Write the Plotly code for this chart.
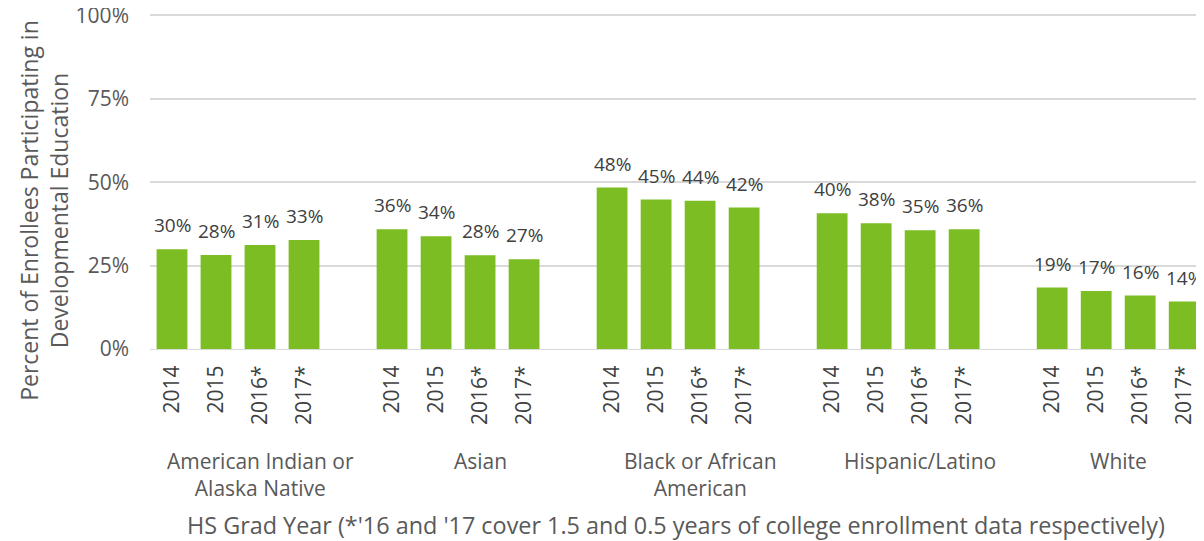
import plotly.graph_objects as go

groups = ["American Indian or<br>Alaska Native", "Asian", "Black or African<br>American",
          "Hispanic/Latino", "White"]
years = ["2014", "2015", "2016*", "2017*"]

american_indian = [0.299, 0.282, 0.312, 0.327]
asian = [0.359, 0.338, 0.281, 0.269]
black = [0.484, 0.448, 0.444, 0.424]
hispanic = [0.407, 0.377, 0.356, 0.359]
white = [0.184, 0.174, 0.160, 0.142]
labels = [
    ["30%", "28%", "31%", "33%"],
    ["36%", "34%", "28%", "27%"],
    ["48%", "45%", "44%", "42%"],
    ["40%", "38%", "35%", "36%"],
    ["19%", "17%", "16%", "14%"],
]
series = [american_indian, asian, black, hispanic, white]

# one empty slot between groups
xs, ys, txt, ticktext = [], [], [], []
for g, vals in enumerate(series):
    for i, v in enumerate(vals):
        xs.append(g * 5 + i)
        ys.append(v)
        txt.append(labels[g][i])
        ticktext.append(years[i])

font = "Open Sans"
grey = "#595959"

fig = go.Figure(go.Bar(
    x=xs, y=ys, width=0.7,
    marker=dict(color="#7bbd22", line=dict(width=0)),
    hoverinfo="skip",
))

# data labels sit a bit higher above the bars than plotly's outside text
for x, y, t in zip(xs, ys, txt):
    fig.add_annotation(x=x, y=y, text=t, showarrow=False, yanchor="bottom",
                       yshift=9, font=dict(family=font, size=19, color="#404040"))

# page body has an 8px margin, so the figure is shrunk by that much
fig.update_layout(
    width=1196, height=533,
    margin=dict(l=142, r=0, t=4, b=192, autoexpand=False),
    plot_bgcolor="white", paper_bgcolor="white",
    showlegend=False,
    font=dict(family=font, color=grey, size=21),
)
fig.update_xaxes(
    range=[-0.5, 23.45], tickvals=xs, ticktext=ticktext, tickangle=-90,
    showgrid=False, zeroline=False, showline=True, linecolor="#d9d9d9",
    ticks="", ticklabelstandoff=7, tickfont=dict(size=21, color="#404040"),
    automargin=False,
)
fig.update_yaxes(
    range=[0, 1.01], tickvals=[0, 0.25, 0.5, 0.75, 1], tickformat=".0%",
    showgrid=True, gridcolor="#d9d9d9", gridwidth=1.5, zeroline=False,
    ticks="", ticklabelstandoff=20, ticklabeloverflow="allow",
    tickfont=dict(size=21, color=grey), automargin=False,
)

group_centers = [2, 7, 12, 17, 21.5]
for name, cx in zip(groups, group_centers):
    fig.add_annotation(text=name, x=cx, xref="x", y=0, yref="paper",
                       yshift=-96, yanchor="top", showarrow=False,
                       font=dict(size=21, color=grey), align="center")

fig.add_annotation(text="HS Grad Year (*'16 and '17 cover 1.5 and 0.5 years of college enrollment data respectively)",
                   x=0.5, xref="paper", xshift=-1, y=0, yref="paper", yshift=-158,
                   yanchor="top", showarrow=False, font=dict(size=23.4, color=grey))
fig.add_annotation(text="Percent of Enrollees Participating in<br>Developmental Education",
                   textangle=-90, x=0, xref="paper", xshift=-106, xanchor="center",
                   y=0.41, yref="paper", yanchor="middle", showarrow=False,
                   font=dict(size=23, color=grey), align="center")

fig.write_html("out.html")
